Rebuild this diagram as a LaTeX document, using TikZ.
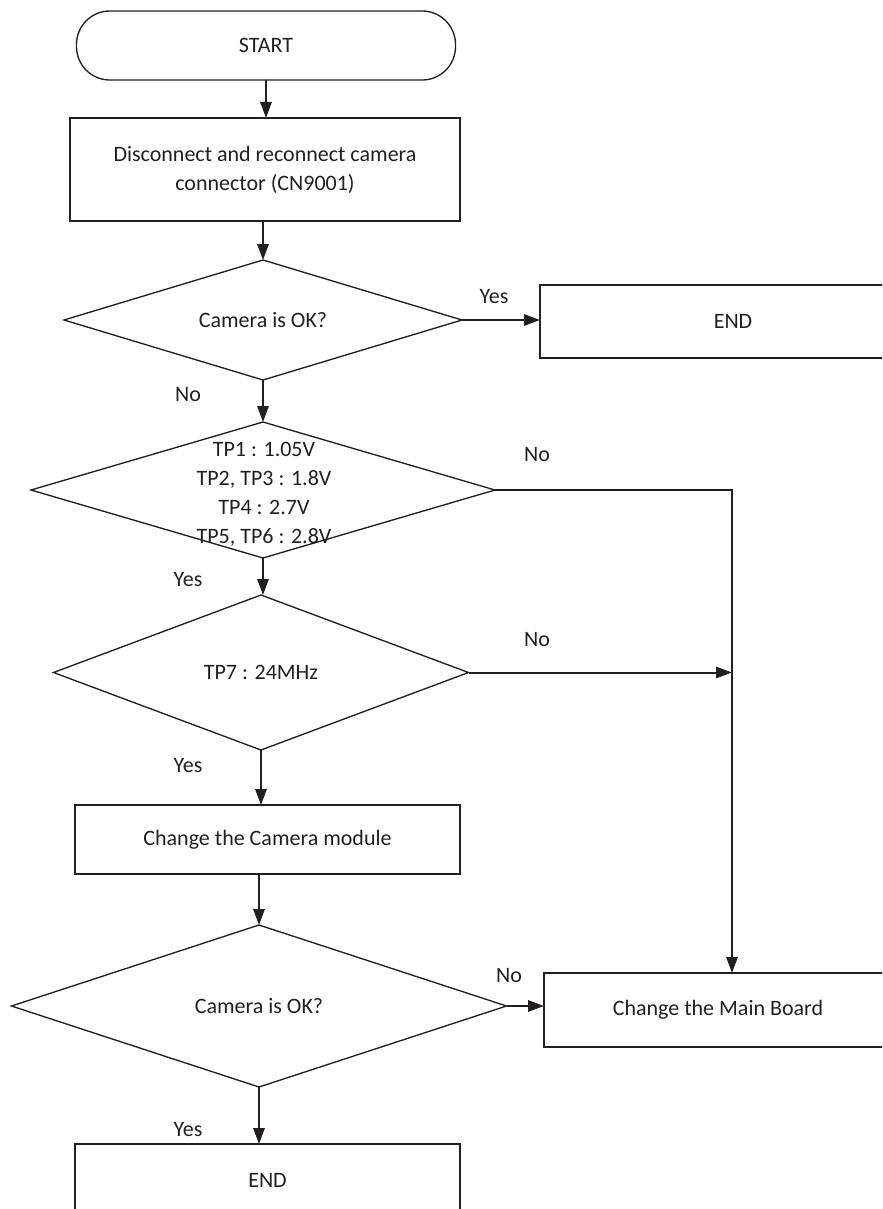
\documentclass[tikz,border=0pt]{standalone}
\usepackage{fontspec}
\setmainfont{Carlito}
\usetikzlibrary{shapes.geometric,arrows.meta}
\definecolor{ink}{HTML}{231F20}
\begin{document}
\begin{tikzpicture}
    [x=0.75pt,y=-0.75pt,
    every node/.style={text=ink,font=\fontsize{16.5}{21.75}\selectfont},
    terminal/.style={draw=ink,line width=1pt,outer sep=0pt,rounded corners=25pt,
        minimum width=284.25pt,minimum height=51.75pt},
    process/.style={draw=ink,line width=1pt,outer sep=0pt,align=center},
    decision/.style={draw=ink,line width=1pt,outer sep=0pt,shape=diamond,
        aspect=3,inner sep=0pt},
    flow/.style={draw=ink,line width=1.5pt,-{Triangle[length=12pt,width=8.5pt]}}]
    \useasboundingbox (0,0) rectangle (882,1209);
    \clip (0,0) rectangle (882,1209);
    %boxes
    \node[terminal] (start) at (266,45.5) {START};
    \node[process,minimum width=292.5pt,minimum height=77.25pt] (reconnect) at (265,169.5)
        {Disconnect and reconnect camera\\connector (CN9001)};
    \node[decision,minimum width=298.5pt,minimum height=90pt] (camok1) at (263,320) {Camera is OK?};
    \node[process,minimum width=289.5pt,minimum height=54.75pt] (end1) at (733,321.5) {END};
    \node[decision,minimum width=348pt,minimum height=102pt] (volt) at (263,490) {};
    \node[align=center] (volttext) at (264,494)
        {TP1 : 1.05V\\TP2, TP3 : 1.8V\\TP4 : 2.7V\\TP5, TP6 : 2.8V};
    \node[decision,minimum width=311.25pt,minimum height=116.25pt] (clock) at (261,672.5) {TP7 : 24MHz};
    \node[process,minimum width=288.75pt,minimum height=51.75pt] (camera) at (267.5,839.5)
        {Change the Camera module};
    \node[decision,minimum width=371.25pt,minimum height=121.5pt] (camok2) at (259,1006) {Camera is OK?};
    \node[process,minimum width=261pt,minimum height=55.5pt] (board) at (718,1010) {Change the Main Board};
    \node[process,minimum width=288.75pt,minimum height=54pt] (end2) at (267.5,1180) {END};
    \coordinate (rail) at (732,490);
    %arrows
    \draw[flow] (start.south) -- (start.south |- reconnect.north);
    \draw[flow] (camok1.north |- reconnect.south) -- (camok1.north);
    \draw[flow] (camok1.east) -- (camok1.east -| end1.west);
    \draw[flow] (camok1.south) -- (volt.north);
    \draw[flow] (volt.east) -- (volt.east -| rail) -- (rail |- board.north);
    \draw[flow] (volt.south) -- (volt.south |- clock.north);
    \draw[flow] (clock.east) -- (clock.east -| rail);
    \draw[flow] (clock.south) -- (clock.south |- camera.north);
    \draw[flow] (camok2.north |- camera.south) -- (camok2.north);
    \draw[flow] (camok2.east) -- (camok2.east -| board.west);
    \draw[flow] (camok2.south) -- (camok2.south |- end2.north);
    %labels
    \node (yes1) at (494,297) {Yes};
    \node (no1) at (188,395) {No};
    \node (no2) at (537,455) {No};
    \node (yes2) at (188,580) {Yes};
    \node (no3) at (537,640) {No};
    \node (yes3) at (188,766) {Yes};
    \node (no4) at (509,976) {No};
    \node (yes4) at (188,1130) {Yes};
\end{tikzpicture}
\end{document}
